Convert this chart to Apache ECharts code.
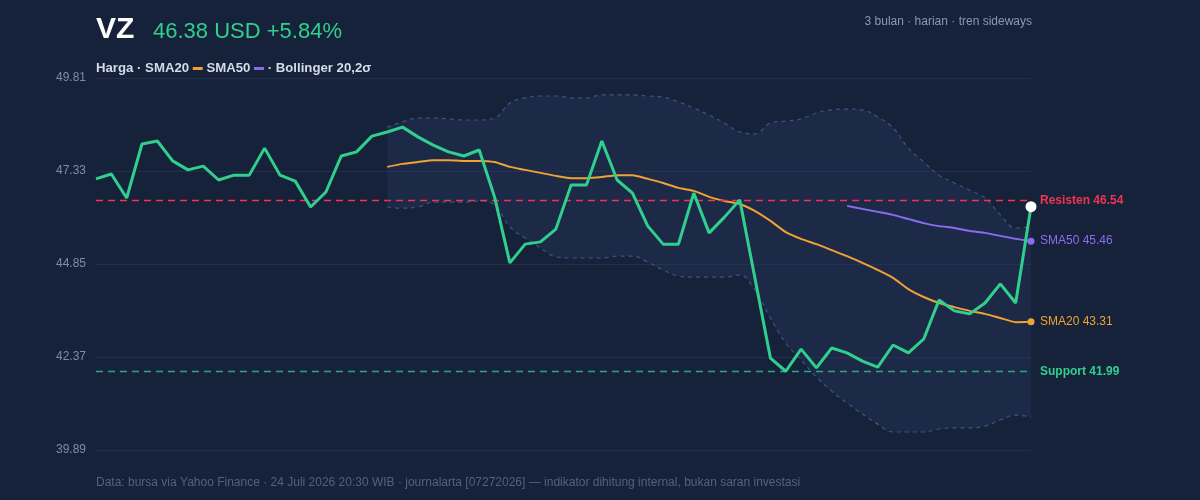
<!DOCTYPE html>
<html>
<head>
<meta charset="utf-8">
<title>VZ</title>
<script src="https://cdn.jsdelivr.net/npm/echarts@6/dist/echarts.min.js"></script>
<style>
  html, body { margin: 0; padding: 0; background: #16223a; }
  #chart { width: 1200px; height: 500px; }
</style>
</head>
<body>
<div id="chart"></div>
<script>
  // harga penutupan harian (62 hari)
  const price = [
    47.12, 47.25, 46.61, 48.05, 48.13, 47.60, 47.36, 47.46, 47.09, 47.22,
    47.22, 47.94, 47.22, 47.06, 46.37, 46.77, 47.73, 47.84, 48.26, 48.37,
    48.50, 48.24, 48.02, 47.84, 47.73, 47.89, 46.64, 44.88, 45.38, 45.44,
    45.78, 46.96, 46.96, 48.13, 47.09, 46.74, 45.86, 45.38, 45.38, 46.74,
    45.68, 46.10, 46.56, 44.45, 42.34, 41.99, 42.58, 42.08, 42.61, 42.48,
    42.26, 42.10, 42.69, 42.48, 42.85, 43.89, 43.60, 43.52, 43.81, 44.32,
    43.81, 46.38
  ];
  // SMA20 mulai hari ke-20
  const sma20 = [
    47.44, 47.52, 47.57, 47.62, 47.62, 47.60, 47.60, 47.57, 47.44, 47.36,
    47.28, 47.20, 47.14, 47.14, 47.17, 47.22, 47.22, 47.12, 47.01, 46.88,
    46.80, 46.64, 46.53, 46.45, 46.26, 46.00, 45.70, 45.52, 45.38, 45.22,
    45.06, 44.88, 44.69, 44.48, 44.18, 43.97, 43.81, 43.70, 43.60, 43.52,
    43.41, 43.30, 43.31
  ];
  // SMA50 mulai hari ke-50
  const sma50 = [
    46.40, 46.32, 46.24, 46.16, 46.05, 45.94, 45.86, 45.81, 45.73, 45.68,
    45.60, 45.52, 45.46
  ];
  // Bollinger 20,2σ mulai hari ke-20
  const bbUpper = [
    48.50, 48.64, 48.74, 48.74, 48.72, 48.69, 48.69, 48.74, 49.14, 49.28,
    49.33, 49.33, 49.28, 49.28, 49.36, 49.36, 49.36, 49.33, 49.30, 49.17,
    49.01, 48.82, 48.61, 48.37, 48.32, 48.61, 48.66, 48.72, 48.88, 48.96,
    48.98, 48.96, 48.77, 48.48, 47.94, 47.57, 47.22, 47.01, 46.82, 46.61,
    46.16, 45.81, 45.84
  ];
  const bbLower = [
    46.37, 46.34, 46.37, 46.50, 46.50, 46.50, 46.53, 46.42, 45.84, 45.54,
    45.28, 45.04, 45.01, 45.01, 45.01, 45.06, 45.06, 44.90, 44.69, 44.53,
    44.50, 44.50, 44.50, 44.56, 44.15, 43.41, 42.74, 42.29, 41.84, 41.46,
    41.14, 40.85, 40.58, 40.37, 40.37, 40.37, 40.45, 40.48, 40.48, 40.53,
    40.69, 40.82, 40.77
  ];
  const yTicks = [39.89, 42.37, 44.85, 47.33, 49.81];
  const resistance = 46.54;
  const support = 41.99;

  const days = price.map((_, i) => i + 1);
  const pad = (arr) => new Array(price.length - arr.length).fill('-').concat(arr);

  const font = '"Liberation Sans", Arial, sans-serif';
  const green = '#31cf8e';
  const orange = '#f0a232';
  const purple = '#8b6cf0';
  const red = '#ee3450';
  const bandLine = '#3c557f';

  const lastIdx = price.length - 1;
  const priceData = price.map((v, i) => i === lastIdx
    ? { value: v, symbol: 'circle', symbolSize: 11, itemStyle: { color: '#ffffff' } }
    : v);
  const endDot = (arr, color) => arr.map((v, i) => i === arr.length - 1
    ? { value: v, symbol: 'circle', symbolSize: 7, itemStyle: { color: color } }
    : v);

  const chart = echarts.init(document.getElementById('chart'));
  chart.setOption({
    backgroundColor: '#16223a',
    animation: false,
    textStyle: { fontFamily: font },
    graphic: [
      { type: 'text', left: 96, top: 15, style: { text: 'VZ', fill: '#ffffff', font: 'bold 30px ' + font } },
      { type: 'text', left: 153, top: 21, style: { text: '46.38 USD +5.84%', fill: green, font: '22px ' + font } },
      { type: 'text', right: 168, top: 16, style: { text: '3 bulan · harian · tren sideways', fill: '#8a99b3', font: '12px ' + font } },
      { type: 'text', left: 96, top: 477, style: { text: 'Data: bursa via Yahoo Finance · 24 Juli 2026 20:30 WIB · journalarta [07272026] — indikator dihitung internal, bukan saran investasi', fill: '#52627d', font: '12px ' + font } }
    ],
    title: {
      left: 91,
      top: 57,
      text: '{b|Harga · SMA20 }{o| }{b| SMA50 }{p| }{b| · Bollinger 20,2σ}',
      textStyle: {
        rich: {
          b: { color: '#d3dbe8', fontSize: 13.2, fontWeight: 'bold', fontFamily: font },
          o: { backgroundColor: orange, width: 10, height: 3, fontSize: 1 },
          p: { backgroundColor: purple, width: 10, height: 3, fontSize: 1 }
        }
      }
    },
    grid: { left: 96, right: 169, top: 78, bottom: 50 },
    xAxis: {
      type: 'category',
      data: days,
      boundaryGap: false,
      show: false
    },
    yAxis: {
      type: 'value',
      min: yTicks[0],
      max: yTicks[yTicks.length - 1],
      interval: 2.48,
      axisLine: { show: false },
      axisTick: { show: false },
      axisLabel: { color: '#7f8ca3', fontSize: 12, margin: 10, formatter: v => v.toFixed(2) },
      splitLine: { lineStyle: { color: '#212f4b', width: 1 } }
    },
    series: [
      {
        name: 'bbBase', type: 'line', stack: 'bb', data: pad(bbLower),
        symbol: 'none', smooth: 0.4, lineStyle: { opacity: 0 }, silent: true
      },
      {
        name: 'bbFill', type: 'line', stack: 'bb',
        data: pad(bbUpper.map((v, i) => +(v - bbLower[i]).toFixed(2))),
        symbol: 'none', smooth: 0.4, lineStyle: { opacity: 0 },
        areaStyle: { color: 'rgba(40, 60, 105, 0.45)' }, silent: true
      },
      {
        name: 'BB atas', type: 'line', data: pad(bbUpper), symbol: 'none', smooth: 0.4,
        lineStyle: { color: bandLine, width: 1.2, type: [4, 4] }
      },
      {
        name: 'BB bawah', type: 'line', data: pad(bbLower), symbol: 'none', smooth: 0.4,
        lineStyle: { color: bandLine, width: 1.2, type: [4, 4] }
      },
      {
        name: 'SMA20', type: 'line', data: pad(endDot(sma20, orange)), symbol: 'none',
        showAllSymbol: true, smooth: 0.2,
        lineStyle: { color: orange, width: 2 },
        endLabel: { show: true, formatter: 'SMA20 43.31', color: orange, fontSize: 12, distance: 9 }
      },
      {
        name: 'SMA50', type: 'line', data: pad(endDot(sma50, purple)), symbol: 'none',
        showAllSymbol: true, smooth: 0.2,
        lineStyle: { color: purple, width: 2 },
        endLabel: { show: true, formatter: 'SMA50 45.46', color: purple, fontSize: 12, distance: 9 }
      },
      {
        name: 'Harga', type: 'line', data: priceData, symbol: 'none', showAllSymbol: true,
        lineStyle: { color: green, width: 3 },
        z: 5,
        markLine: {
          silent: true,
          symbol: ['none', 'none'],
          data: [
            {
              yAxis: resistance,
              lineStyle: { color: red, type: [7, 5], width: 1.3 },
              label: { formatter: 'Resisten 46.54', color: red, fontWeight: 'bold', fontSize: 12, distance: 9 }
            },
            {
              yAxis: support,
              lineStyle: { color: '#2ba883', type: [7, 5], width: 1.3 },
              label: { formatter: 'Support 41.99', color: green, fontWeight: 'bold', fontSize: 12, distance: 9 }
            }
          ]
        }
      }
    ]
  });
</script>
</body>
</html>
